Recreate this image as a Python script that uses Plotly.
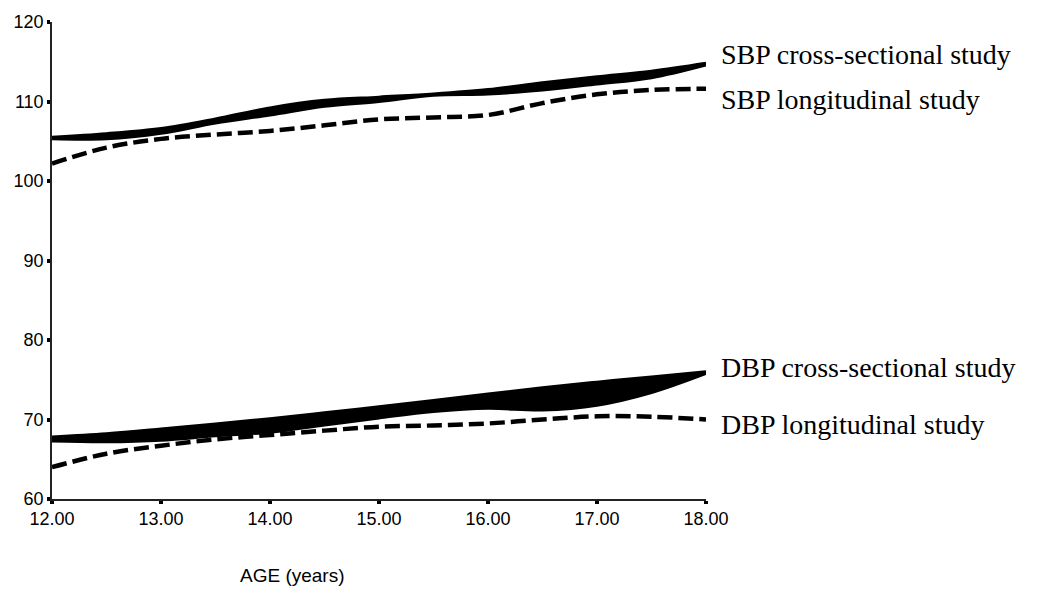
import plotly.graph_objects as go

ages = [12, 12.5, 13, 13.5, 14, 14.5, 15, 15.5, 16, 16.5, 17, 17.5, 18]

sbp_cross_upper = [105.5, 105.95, 106.6, 107.8, 109.2, 110.15, 110.55, 110.95, 111.5, 112.35, 113.1, 113.8, 114.8]
sbp_cross_lower = [105.3, 105.3, 106.0, 107.3, 108.3, 109.4, 110.0, 110.8, 110.95, 111.45, 112.2, 113.0, 114.6]
sbp_long = [102.2, 104.2, 105.3, 105.85, 106.3, 107.0, 107.75, 108.0, 108.3, 109.8, 110.9, 111.45, 111.6]

dbp_cross_upper = [67.8, 68.2, 68.8, 69.45, 70.1, 70.85, 71.6, 72.4, 73.2, 74.0, 74.7, 75.35, 76.0]
dbp_cross_lower = [67.3, 67.2, 67.4, 67.95, 68.4, 69.3, 70.2, 71.0, 71.4, 71.2, 71.8, 73.4, 75.8]
dbp_long = [64.0, 65.7, 66.7, 67.5, 68.05, 68.6, 69.1, 69.25, 69.5, 70.0, 70.4, 70.35, 70.0]

x_ticks = [12, 13, 14, 15, 16, 17, 18]
x_tick_labels = ["12.00", "13.00", "14.00", "15.00", "16.00", "17.00", "18.00"]
y_ticks = [60, 70, 80, 90, 100, 110, 120]

labels = ["SBP cross-sectional study", "SBP longitudinal study",
          "DBP cross-sectional study", "DBP longitudinal study"]
label_y = [115.9, 110.2, 76.5, 69.4]

fig = go.Figure()

def band(lower, upper):
    fig.add_trace(go.Scatter(x=ages, y=lower, mode="lines",
                             line=dict(color="black", width=3, shape="spline"),
                             showlegend=False, hoverinfo="skip"))
    fig.add_trace(go.Scatter(x=ages, y=upper, mode="lines", fill="tonexty",
                             fillcolor="black",
                             line=dict(color="black", width=3, shape="spline"),
                             showlegend=False, hoverinfo="skip"))

band(sbp_cross_lower, sbp_cross_upper)
band(dbp_cross_lower, dbp_cross_upper)

for series in (sbp_long, dbp_long):
    fig.add_trace(go.Scatter(x=ages, y=series, mode="lines",
                             line=dict(color="black", width=4.5, shape="spline", dash="15px,6px"),
                             showlegend=False, hoverinfo="skip"))

for text, yv in zip(labels, label_y):
    fig.add_annotation(x=1.02, xref="paper", y=yv, yref="y", text=text,
                       showarrow=False, xanchor="left", yanchor="middle",
                       font=dict(family="Liberation Serif, Times New Roman, serif",
                                 size=28, color="black"))

fig.add_annotation(x=0.3685, xref="paper", y=-0.161, yref="paper", text="AGE (years)",
                   showarrow=False, xanchor="center", yanchor="middle",
                   font=dict(family="Liberation Sans, Arial, sans-serif", size=19, color="black"))

fig.update_layout(
    width=1041, height=592,
    margin=dict(l=52, r=335, t=16, b=93),
    paper_bgcolor="white", plot_bgcolor="white",
    font=dict(family="Liberation Sans, Arial, sans-serif", size=18, color="black"),
    xaxis=dict(range=[12, 18], tickvals=x_ticks, ticktext=x_tick_labels,
               showgrid=False, zeroline=False, showline=True,
               linecolor="#222", linewidth=1.5,
               ticks="outside", ticklen=3, tickwidth=4, tickcolor="black"),
    yaxis=dict(range=[60, 120], tickvals=y_ticks,
               showgrid=False, zeroline=False, showline=True,
               linecolor="#222", linewidth=1.5,
               ticks="outside", ticklen=3, tickwidth=4, tickcolor="black"),
)

fig.write_html("out.html")
